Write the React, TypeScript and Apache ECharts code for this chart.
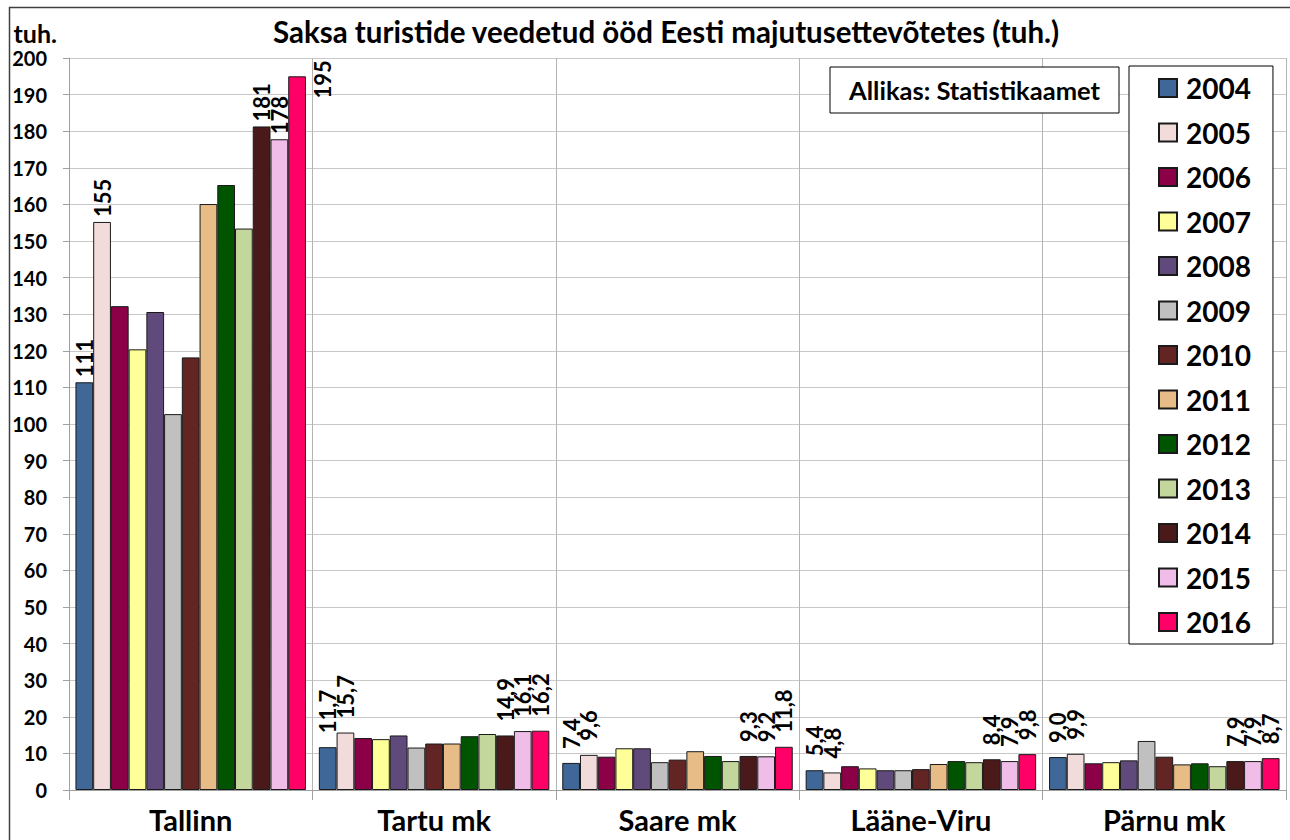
import React, { useEffect, useRef } from "react";
import * as echarts from "echarts";

const categories = ["Tallinn", "Tartu mk", "Saare mk", "Lääne-Viru", "Pärnu mk"];
const years = ["2004", "2005", "2006", "2007", "2008", "2009", "2010", "2011", "2012", "2013", "2014", "2015", "2016"];

const y2004 = [111.4, 11.7, 7.4, 5.4, 9.0];
const y2005 = [155.2, 15.7, 9.6, 4.8, 9.9];
const y2006 = [132.2, 14.2, 9.1, 6.5, 7.3];
const y2007 = [120.4, 13.9, 11.4, 5.9, 7.6];
const y2008 = [130.6, 14.9, 11.4, 5.4, 8.1];
const y2009 = [102.7, 11.6, 7.6, 5.4, 13.4];
const y2010 = [118.2, 12.7, 8.3, 5.7, 9.1];
const y2011 = [160.1, 12.7, 10.6, 7.1, 7.0];
const y2012 = [165.3, 14.7, 9.3, 7.9, 7.3];
const y2013 = [153.4, 15.3, 7.9, 7.6, 6.5];
const y2014 = [181.3, 14.9, 9.3, 8.4, 7.9];
const y2015 = [177.8, 16.1, 9.2, 7.9, 7.9];
const y2016 = [195.0, 16.2, 11.8, 9.8, 8.7];

const seriesValues = [y2004, y2005, y2006, y2007, y2008, y2009, y2010, y2011, y2012, y2013, y2014, y2015, y2016];
const labelledYears = ["2004", "2005", "2014", "2015", "2016"];

const colors = [
  "#3F6798", "#F2DCDB", "#8B0046", "#FFFF99", "#604A7B", "#C0C0C0", "#632523",
  "#E8BC86", "#005400", "#C3D69B", "#4A1A1B", "#F0BDE8", "#FF0066",
];

const FONT = "Lato, 'Noto Sans', sans-serif";

const fmt = (v: number, idx: number) =>
  idx === 0 ? String(Math.round(v)) : v.toFixed(1).replace(".", ",");

export default function App() {
  const ref = useRef<HTMLDivElement>(null);
  useEffect(() => {
    document.body.style.margin = "0";
    const chart = echarts.init(ref.current!, null, { renderer: "svg" });
    const series = years.map((yr, si) => {
      const showLabel = labelledYears.includes(yr);
      return {
        name: yr,
        type: "bar",
        barGap: 0,
        barCategoryGap: "5.3%",
        itemStyle: { color: colors[si], borderColor: "#1a1a1a", borderWidth: 1 },
        label: {
          show: showLabel,
          position: "top",
          rotate: 90,
          align: "left",
          verticalAlign: "middle",
          distance: 14,
          fontFamily: FONT,
          fontWeight: "bold",
          fontSize: 22,
          color: "#000",
          formatter: (p: any) => fmt(p.value, p.dataIndex),
        },
        data: seriesValues[si].map((v, i) => {
          if (!showLabel || i !== 0) return v;
          if (yr === "2016") {
            return {
              value: v,
              label: { position: [34, -16], align: "right", verticalAlign: "middle", rotate: 90 },
            };
          }
          return { value: v, label: { distance: 5 } };
        }),
      };
    });

    chart.setOption({
      animation: false,
      backgroundColor: "#fff",
      textStyle: { fontFamily: FONT },
      title: {
        text: "Saksa turistide veedetud ööd Eesti majutusettevõtetes (tuh.)",
        left: 268,
        top: 11,
        textStyle: { fontFamily: FONT, fontWeight: "bold", fontSize: 29.5, color: "#000" },
      },
      grid: { left: 69, right: 4, top: 58, bottom: 50, containLabel: false },
      legend: {
        orient: "vertical",
        left: 1129,
        top: 66,
        padding: [7, 22, 7, 29],
        itemWidth: 18,
        itemHeight: 18,
        itemGap: 14.5,
        borderColor: "#000",
        borderWidth: 1,
        backgroundColor: "#fff",
        icon: "rect",
        textStyle: {
          fontFamily: FONT,
          fontWeight: "bold",
          fontSize: 28,
          lineHeight: 30,
          color: "#000",
          padding: [0, 0, 0, 4],
        },
        data: years,
      },
      xAxis: {
        type: "category",
        data: categories,
        axisLine: { lineStyle: { color: "#a0a0a0", width: 1 } },
        axisTick: { show: true, length: 10, lineStyle: { color: "#a0a0a0" } },
        splitLine: { show: true, lineStyle: { color: "#b4b4b4", width: 1 } },
        axisLabel: {
          fontFamily: FONT,
          fontWeight: "bold",
          fontSize: 29,
          color: "#000",
          margin: 15,
        },
      },
      yAxis: {
        type: "value",
        min: 0,
        max: 200,
        interval: 10,
        name: "tuh.",
        nameLocation: "end",
        nameGap: 25,
        nameTextStyle: {
          fontFamily: FONT,
          fontWeight: "bold",
          fontSize: 25,
          color: "#000",
          align: "right",
          verticalAlign: "middle",
          padding: [0, 12, 0, 0],
        },
        axisLine: { show: true, lineStyle: { color: "#a0a0a0", width: 1 } },
        axisTick: { show: true, length: 6, lineStyle: { color: "#a0a0a0" } },
        splitLine: { show: true, lineStyle: { color: "#c8c8c8", width: 1 } },
        axisLabel: {
          fontFamily: FONT,
          fontWeight: "bold",
          fontSize: 20,
          color: "#000",
          margin: 22,
        },
      },
      graphic: [
        {
          type: "rect",
          left: 7,
          top: 5,
          shape: { width: 1300, height: 900 },
          style: { fill: "none", stroke: "#404040", lineWidth: 1.5 },
          silent: true,
          z: 100,
        },
        {
          type: "rect",
          x: 830,
          y: 67,
          shape: { x: 0, y: 0, width: 289, height: 46 },
          style: { fill: "#fff", stroke: "#000", lineWidth: 1 },
          z: 50,
        },
        {
          type: "text",
          x: 974.5,
          y: 90,
          style: {
            text: "Allikas: Statistikaamet",
            fontFamily: FONT,
            fontWeight: "bold",
            fontSize: 25.5,
            fill: "#000",
            align: "center",
            verticalAlign: "middle",
          },
          z: 51,
        },
      ],
      series,
    });
    return () => chart.dispose();
  }, []);
  return <div ref={ref} style={{ width: 1290, height: 840 }} />;
}
